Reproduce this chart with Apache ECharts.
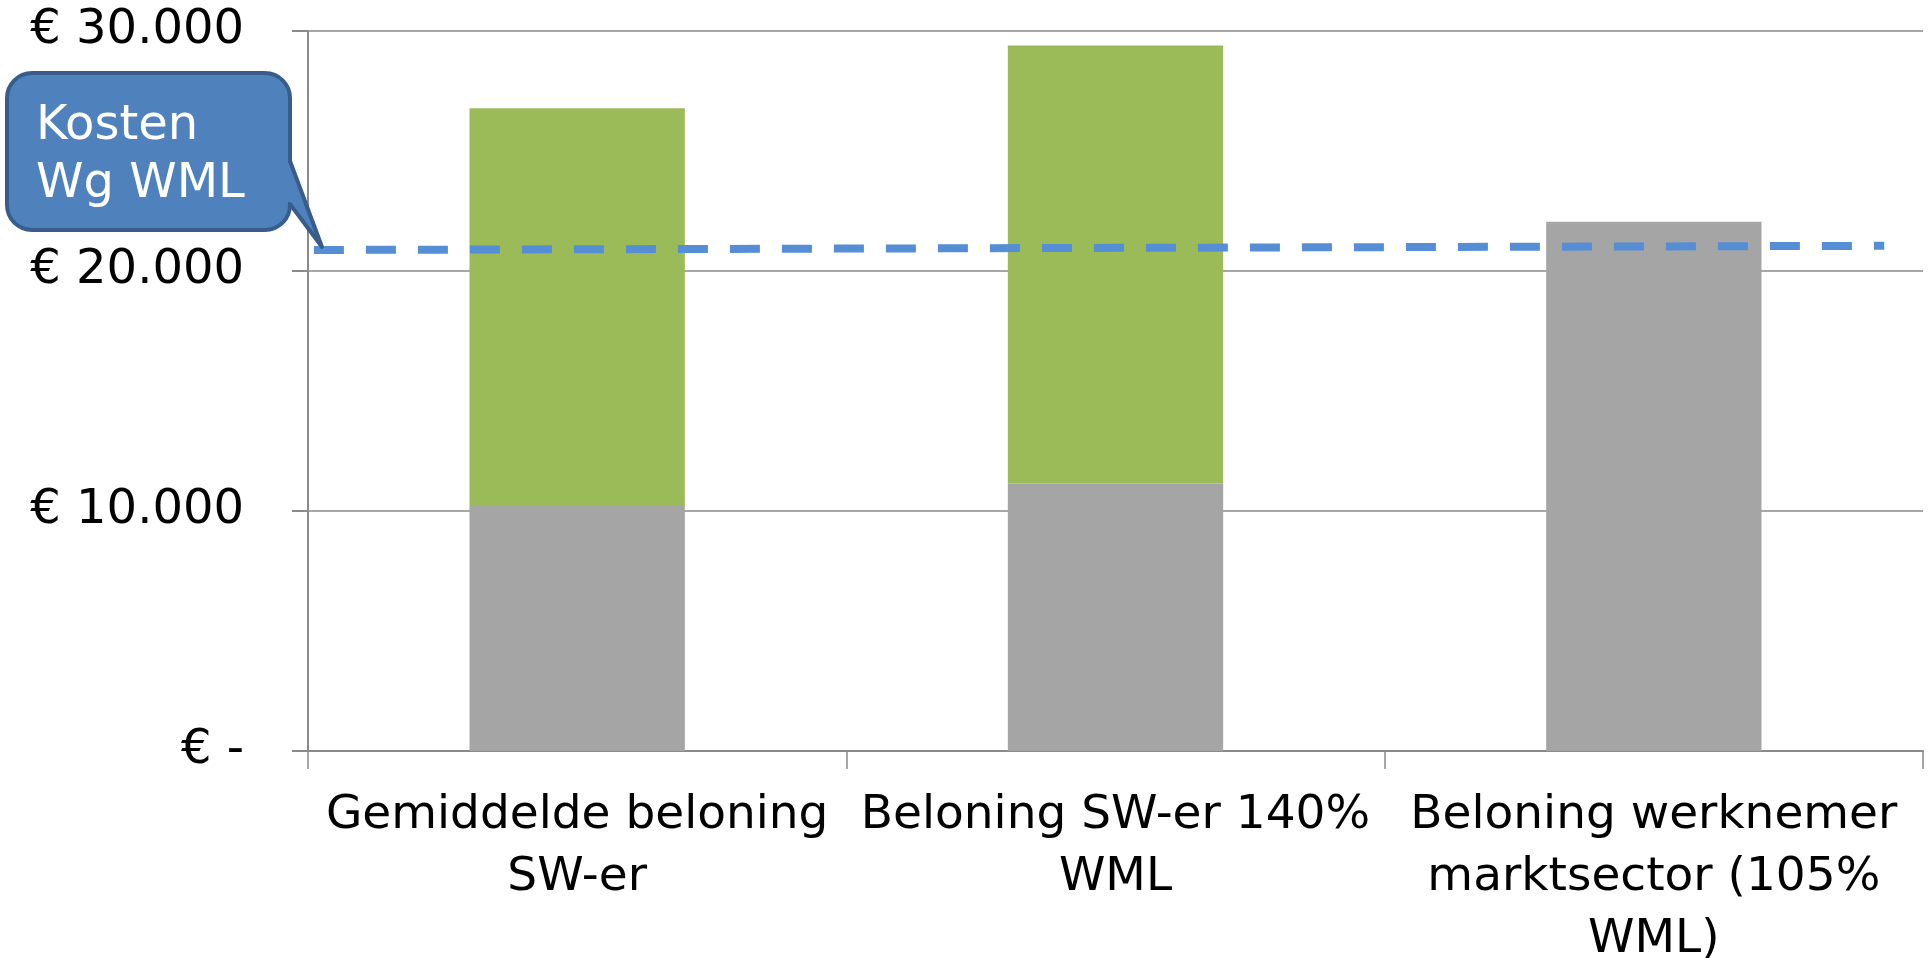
<!DOCTYPE html>
<html>
<head>
<meta charset="utf-8">
<script src="https://cdn.jsdelivr.net/npm/echarts@6/dist/echarts.min.js"></script>
<style>
  html, body { margin: 0; padding: 0; background: #fff; }
  #chart { width: 1930px; height: 958px; }
</style>
</head>
<body>
<div id="chart"></div>
<script>
const categories = [
  'Gemiddelde beloning\nSW-er',
  'Beloning SW-er 140%\nWML',
  'Beloning werknemer\nmarktsector (105%\nWML)'
]
// grijs = loon, groen = extra kosten
const grayValues = [10250, 11150, 22050]
const greenValues = [16530, 18250, 0]
// gestippelde lijn "Kosten Wg WML" (x = positie over de 3 categorieen)
const wmlLine = [[0.011, 20875], [2.928, 21050]]
const yTicks = [0, 10000, 20000, 30000]

const axisGray = '#8a8a8a'
const font = 'DejaVu Sans, Verdana, sans-serif'

const chart = echarts.init(document.getElementById('chart'))

const fmt = (v) => {
  if (v === 0) return '€ -'
  return '€ ' + String(v).replace(/\B(?=(\d{3})+(?!\d))/g, '.')
}

const option = {
  animation: false,
  grid: { left: 308, right: 7, top: 31, bottom: 207, outerBoundsMode: 'none' },
  xAxis: [
    {
      type: 'category',
      data: categories,
      axisLine: { lineStyle: { color: axisGray, width: 2 } },
      axisTick: { show: true, length: 18, lineStyle: { color: axisGray, width: 1.5 } },
      axisLabel: {
        interval: 0,
        margin: 34,
        color: '#000',
        fontFamily: font,
        fontSize: 47,
        lineHeight: 62
      }
    },
    {
      type: 'value',
      min: 0,
      max: 3,
      show: false
    }
  ],
  yAxis: {
    type: 'value',
    min: yTicks[0],
    max: yTicks[yTicks.length - 1],
    interval: 10000,
    axisLine: { show: true, lineStyle: { color: axisGray, width: 2 } },
    axisTick: { show: true, length: 16, lineStyle: { color: axisGray, width: 2 } },
    splitLine: { show: true, lineStyle: { color: axisGray, width: 1.5 } },
    axisLabel: {
      margin: 64,
      color: '#000',
      fontFamily: font,
      fontSize: 48,
      formatter: fmt
    }
  },
  series: [
    {
      name: 'loon',
      type: 'bar',
      stack: 'total',
      barWidth: '40%',
      itemStyle: { color: '#A5A5A5' },
      data: grayValues
    },
    {
      name: 'extra',
      type: 'bar',
      stack: 'total',
      barWidth: '40%',
      itemStyle: { color: '#9BBB59' },
      data: greenValues
    },
    {
      name: 'Kosten Wg WML',
      type: 'line',
      xAxisIndex: 1,
      symbol: 'none',
      z: 5,
      lineStyle: { color: '#558ED5', width: 8, type: [30, 22] },
      data: wmlLine
    }
  ],
  graphic: [
    {
      type: 'rect',
      z: 10,
      shape: { x: 7, y: 73, width: 283, height: 157, r: 25 },
      style: { fill: '#4F81BD', stroke: '#385D8A', lineWidth: 4 }
    },
    {
      // staart van de callout, vult de rand weg
      type: 'polygon',
      z: 11,
      shape: { points: [[284, 163], [290, 163], [322, 247], [290, 202], [284, 202]] },
      style: { fill: '#4F81BD' }
    },
    {
      type: 'polyline',
      z: 12,
      shape: { points: [[290, 161], [322, 247], [290, 204]] },
      style: { stroke: '#385D8A', lineWidth: 4, fill: null, lineJoin: 'round' }
    },
    {
      type: 'text',
      z: 13,
      left: 36,
      top: 98,
      style: {
        text: 'Kosten\nWg WML',
        fill: '#fff',
        font: '48px ' + font,
        lineHeight: 58
      }
    }
  ]
}

chart.setOption(option)
</script>
</body>
</html>
